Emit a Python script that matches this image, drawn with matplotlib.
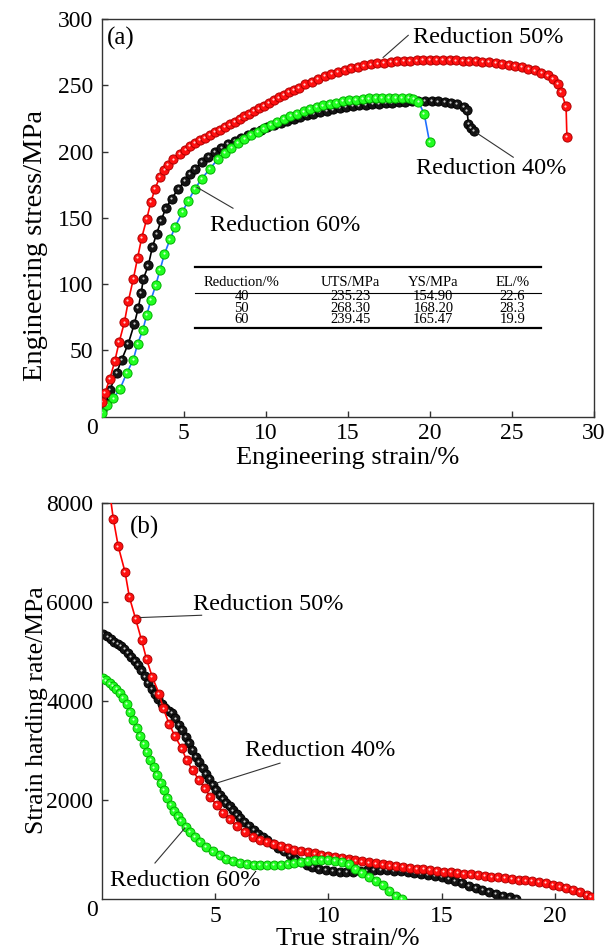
import matplotlib
matplotlib.use('Agg')
import matplotlib.pyplot as plt
from matplotlib.transforms import offset_copy

plt.rcParams['font.family'] = ['Liberation Serif', 'DejaVu Serif']

# ---------------- data: (a) engineering stress-strain ----------------
strain_40 = [0.03, 0.25, 0.5, 0.91, 1.22, 1.62, 1.99, 2.23, 2.4, 2.54, 2.84, 3.09, 3.35, 3.62, 3.9,
             4.27, 4.67, 5.08, 5.4, 5.69, 6.1, 6.5, 6.9, 7.3, 7.7, 8.1, 8.5, 8.9, 9.3, 9.7, 10.1,
             10.5, 10.9, 11.3, 11.7, 12.1, 12.5, 12.9, 13.3, 13.7, 14.1, 14.5, 14.9, 15.3, 15.7,
             16.1, 16.5, 16.9, 17.3, 17.7, 18.1, 18.5, 18.9, 19.3, 19.7, 20.1, 20.5, 20.9, 21.3,
             21.65, 22.05, 22.26, 22.35, 22.5, 22.66]
stress_40 = [5, 10, 20, 33, 43, 55, 70, 82, 93, 104, 114, 128, 138, 148, 157,
             164.5, 172, 178, 183, 187, 192, 196, 199.5, 202.5, 205.5, 208, 210.5, 212.5, 214.5, 216.5, 218.3,
             220, 221.5, 223, 224.5, 226, 227.3, 228.5, 229.7, 230.8, 231.8, 232.7, 233.5, 234.2, 234.8,
             235.3, 235.8, 236.2, 236.6, 237, 237.4, 237.7, 238, 238.2, 238.2, 238.1, 237.8, 237.4, 236.8,
             235.7, 233.6, 231, 221, 218, 215.5]

strain_50 = [0.03, 0.2, 0.5, 0.8, 1.06, 1.38, 1.62, 1.93, 2.19, 2.44, 2.74, 3.0, 3.25, 3.55, 3.82,
             4.06, 4.37, 4.77, 5.1, 5.4, 5.7, 6.0, 6.3, 6.6, 6.9, 7.2, 7.5, 7.8, 8.1, 8.4, 8.7, 9.0,
             9.3, 9.6, 9.9, 10.2, 10.5, 10.8, 11.1, 11.4, 11.7, 12.0, 12.4, 12.8, 13.2, 13.6, 14.0,
             14.4, 14.8, 15.2, 15.6, 16.0, 16.4, 16.8, 17.2, 17.6, 18.0, 18.4, 18.8, 19.2, 19.6, 20.0,
             20.4, 20.8, 21.2, 21.6, 22.0, 22.4, 22.8, 23.2, 23.6, 24.0, 24.4, 24.8, 25.2, 25.6, 26.0,
             26.4, 26.8, 27.2, 27.5, 27.8, 28.0, 28.3, 28.35]
stress_50 = [11, 18, 28.5, 42, 56, 71, 87, 104, 120, 135, 149, 162, 172, 181, 186,
             190, 194, 198.5, 201.5, 204, 206.5, 208.5, 210.5, 212.5, 214.5, 216.5, 218.5, 220.5, 222.5, 224.5, 226.5, 228.5,
             230.5, 232.5, 234.5, 236.7, 238.8, 240.8, 242.8, 244.7, 246.5, 248.3, 250.6, 252.8, 254.8, 256.8, 258.7,
             260.3, 261.7, 263, 264, 265, 265.8, 266.5, 267.1, 267.6, 268, 268.3, 268.6, 268.8, 268.9, 269,
             269, 269, 268.9, 268.8, 268.6, 268.4, 268.1, 267.8, 267.4, 266.9, 266.3, 265.6, 264.8, 263.8, 262.6,
             261.2, 259.5, 257.5, 255, 251, 245, 234, 211]

strain_60 = [0.03, 0.3, 0.71, 1.12, 1.52, 1.93, 2.19, 2.5, 2.74, 3.0, 3.29, 3.55, 3.82, 4.16, 4.47,
             4.92, 5.28, 5.69, 6.1, 6.6, 7.1, 7.5, 7.9, 8.3, 8.7, 9.1, 9.5, 9.9, 10.3, 10.7, 11.1,
             11.5, 11.9, 12.3, 12.7, 13.1, 13.5, 13.9, 14.3, 14.7, 15.1, 15.5, 15.9, 16.3, 16.7,
             17.1, 17.5, 17.9, 18.3, 18.7, 19.0, 19.3, 19.65, 19.98]
stress_60 = [3, 8.7, 13.7, 21, 32.6, 43, 55, 65, 76.5, 88, 99, 110.5, 122.5, 133.6, 143,
             154.5, 163, 172, 179.6, 187, 194.7, 199, 203, 206.5, 209.5, 212.3, 215, 217.5, 220, 222.3, 224.5,
             226.6, 228.5, 230.3, 232, 233.5, 234.8, 236, 237, 237.9, 238.6, 239.2, 239.7, 240.1, 240.4,
             240.6, 240.7, 240.7, 240.6, 240.3, 239.8, 237.4, 228.7, 207]

# table values
table_cols = ['Reduction/%', 'UTS/MPa', 'YS/MPa', 'EL/%']
reductions = ['40', '50', '60']
uts = ['235.23', '268.30', '239.45']
ys = ['154.90', '168.20', '165.47']
el = ['22.6', '28.3', '19.9']

# ---------------- data: (b) strain hardening rate ----------------
tstrain_40 = [0.07, 0.25, 0.4, 0.55, 0.7, 0.85, 1.0, 1.15, 1.3, 1.45, 1.6, 1.75, 1.9, 2.05, 2.2, 2.35,
              2.5, 2.65, 2.8, 2.95, 3.1, 3.25, 3.4, 3.55, 3.7, 3.85, 4.0, 4.15, 4.3, 4.45, 4.6, 4.75,
              4.9, 5.05, 5.2, 5.35, 5.5, 5.65, 5.8, 5.95, 6.1, 6.3, 6.5, 6.7, 6.9, 7.1, 7.3, 7.55, 7.8,
              8.05, 8.3, 8.55, 8.8, 9.05, 9.3, 9.6, 9.9, 10.2, 10.5, 10.8, 11.1, 11.4, 11.7, 12.0, 12.3,
              12.6, 12.9, 13.2, 13.5, 13.8, 14.1, 14.4, 14.7, 15.0, 15.3, 15.6, 15.9, 16.2, 16.5, 16.8,
              17.1, 17.4, 17.7, 18.0, 18.3]
rate_40 = [5367, 5310, 5250, 5200, 5160, 5110, 5050, 4980, 4900, 4820, 4730, 4620, 4500, 4370, 4250, 4140,
           4040, 3940, 3860, 3800, 3760, 3650, 3520, 3420, 3270, 3150, 3010, 2880, 2770, 2650, 2530, 2420,
           2310, 2210, 2110, 2030, 1950, 1870, 1790, 1710, 1640, 1550, 1470, 1390, 1320, 1255, 1195, 1120, 1040,
           960, 880, 810, 750, 695, 645, 605, 580, 562, 552, 548, 552, 565, 578, 586, 585,
           580, 572, 562, 552, 535, 515, 492, 465, 440, 405, 365, 320, 270, 225, 175,
           135, 95, 60, 30, 0]

tstrain_50 = [0.3, 0.51, 0.73, 1.03, 1.22, 1.5, 1.76, 1.98, 2.23, 2.54, 2.72, 2.98, 3.23, 3.53, 3.75,
              4.01, 4.29, 4.56, 4.78, 5.07, 5.36, 5.66, 5.95, 6.32, 6.69, 7.0, 7.3, 7.6, 7.9, 8.2, 8.5,
              8.8, 9.1, 9.4, 9.7, 10.0, 10.3, 10.6, 10.9, 11.2, 11.5, 11.8, 12.1, 12.4, 12.7, 13.0, 13.3,
              13.6, 13.9, 14.2, 14.5, 14.8, 15.1, 15.4, 15.7, 16.0, 16.3, 16.6, 16.9, 17.2, 17.5, 17.8,
              18.1, 18.4, 18.7, 19.0, 19.3, 19.6, 19.9, 20.2, 20.5, 20.8, 21.1, 21.4, 21.6]
rate_50 = [8400, 7690, 7130, 6610, 6106, 5656, 5232, 4848, 4490, 4141, 3852, 3535, 3293, 3044, 2808,
           2606, 2404, 2236, 2067, 1899, 1743, 1610, 1475, 1360, 1259, 1200, 1150, 1105, 1065, 1030, 1000,
           970, 945, 920, 895, 875, 850, 825, 800, 780, 760, 740, 720, 700, 680, 662, 645,
           630, 615, 600, 585, 570, 555, 540, 525, 510, 495, 480, 465, 450, 435, 420,
           405, 390, 375, 360, 345, 320, 290, 255, 220, 180, 135, 80, 47]

tstrain_60 = [0.07, 0.2, 0.35, 0.5, 0.65, 0.8, 0.95, 1.1, 1.25, 1.4, 1.55, 1.7, 1.85, 2.0, 2.15, 2.3,
              2.45, 2.6, 2.75, 2.9, 3.05, 3.2, 3.35, 3.5, 3.7, 3.9, 4.1, 4.35, 4.6, 4.9, 5.2, 5.5, 5.8,
              6.1, 6.4, 6.7, 7.0, 7.3, 7.6, 7.9, 8.2, 8.5, 8.8, 9.1, 9.4, 9.7, 10.0, 10.3, 10.6, 10.9,
              11.2, 11.5, 11.8, 12.1, 12.4, 12.7, 13.0, 13.25]
rate_60 = [4458, 4420, 4360, 4300, 4240, 4160, 4060, 3950, 3780, 3620, 3460, 3300, 3140, 2980, 2820, 2660,
           2510, 2350, 2200, 2040, 1900, 1780, 1670, 1570, 1450, 1350, 1260, 1150, 1050, 960, 880, 815, 765,
           730, 705, 692, 688, 686, 686, 690, 705, 725, 750, 770, 785, 792, 790, 775, 745, 700,
           610, 530, 450, 370, 280, 170, 70, 0]

# (face, edge, line)
RED = ('#ff1010', '#b00000', '#ff0000')
BLACK = ('#151515', '#000000', '#000000')
GREEN = ('#22ff22', '#00b000', '#1f6fff')


def beads(ax, x, y, style, ms, z):
    # sphere-like markers: coloured disc plus a small white highlight
    face, edge, line = style
    ax.plot(x, y, '-', color=line, lw=1.2, zorder=z)
    ax.plot(x, y, 'o', ms=ms, mfc=face, mec=edge, mew=0.7, zorder=z + 0.1)
    hl = offset_copy(ax.transData, fig=ax.figure, x=-0.6, y=0.6, units='points')
    ax.plot(x, y, 'o', ms=ms * 0.24, mfc='white', mec='none', alpha=0.8,
            zorder=z + 0.2, transform=hl)


def style_axes(ax):
    for sp in ax.spines.values():
        sp.set_color('#333333')
        sp.set_linewidth(1.0)
    ax.tick_params(direction='in', length=4, width=1, labelsize=17, pad=5, color='#333333')
    ax.tick_params(axis='y', pad=6)
    ax.annotate('0', xy=(0, 0), xycoords='axes fraction', xytext=(-3, -1),
                textcoords='offset points', ha='right', va='top', fontsize=17)


def leader(ax, p0, p1):
    ax.plot([p0[0], p1[0]], [p0[1], p1[1]], color='#333333', lw=0.8, zorder=10)


fig = plt.figure(figsize=(6.04, 9.52), dpi=100)

# ---------------- panel (a) ----------------
ax1 = fig.add_axes([0.1684, 0.5625, 0.815, 0.4175])
beads(ax1, strain_40, stress_40, BLACK, 6.6, 2)
beads(ax1, strain_60, stress_60, GREEN, 6.6, 3)
beads(ax1, strain_50, stress_50, RED, 6.6, 4)
ax1.set_xlim(0, 30)
ax1.set_ylim(0, 300)
ax1.set_xticks([5, 10, 15, 20, 25, 30])
ax1.set_yticks([50, 100, 150, 200, 250, 300])
style_axes(ax1)
ax1.set_xlabel('Engineering strain/%', fontsize=19, labelpad=2)
ax1.set_ylabel('Engineering stress/MPa', fontsize=20.5)
ax1.yaxis.set_label_coords(-0.109, 0.431)

ax1.text(0.32, 285, '(a)', fontsize=18, ha='left', va='center')
leader(ax1, (17.15, 271), (18.68, 287.7))
ax1.text(18.95, 286, 'Reduction 50%', fontsize=17.5, ha='left', va='center')
leader(ax1, (22.88, 213.8), (25.08, 195.7))
ax1.text(19.16, 187.4, 'Reduction 40%', fontsize=17.5, ha='left', va='center')
leader(ax1, (5.81, 173), (8.0, 157.2))
ax1.text(6.6, 144.4, 'Reduction 60%', fontsize=17.5, ha='left', va='center')

# property table (three-line table)
col_x = [8.54, 15.15, 20.21, 25.03]
ax1.plot([5.7, 26.8], [113, 113], color='black', lw=1.6, zorder=10)
ax1.plot([5.7, 26.8], [93.4, 93.4], color='black', lw=0.8, zorder=10)
ax1.plot([5.7, 26.8], [66.5, 66.5], color='black', lw=1.6, zorder=10)
for cx, name in zip(col_x, table_cols):
    ax1.text(cx, 101.5, name, fontsize=10.5, ha='center', va='center', zorder=10)
for cx, col in zip(col_x, [reductions, uts, ys, el]):
    ax1.text(cx, 81.8, '\n'.join(col), fontsize=10.5, ha='center', va='center',
             multialignment='center', linespacing=0.82, zorder=10)

# ---------------- panel (b) ----------------
ax2 = fig.add_axes([0.1684, 0.0557, 0.814, 0.4156])
beads(ax2, tstrain_40, rate_40, BLACK, 6.4, 2)
beads(ax2, tstrain_50, rate_50, RED, 6.4, 3)
beads(ax2, tstrain_60, rate_60, GREEN, 6.4, 4)
ax2.set_xlim(0, 21.7)
ax2.set_ylim(0, 8000)
ax2.set_xticks([5, 10, 15, 20])
ax2.set_yticks([2000, 4000, 6000, 8000])
style_axes(ax2)
ax2.set_xlabel('True strain/%', fontsize=19, labelpad=1)
ax2.set_ylabel('Strain harding rate/MPa', fontsize=18.5)
ax2.yaxis.set_label_coords(-0.109, 0.477)

ax2.text(1.25, 7514, '(b)', fontsize=18, ha='left', va='center')
leader(ax2, (1.69, 5690), (4.41, 5737))
ax2.text(4.03, 5959, 'Reduction 50%', fontsize=17.5, ha='left', va='center')
leader(ax2, (5.07, 2343), (7.87, 2747))
ax2.text(6.33, 3010, 'Reduction 40%', fontsize=17.5, ha='left', va='center')
leader(ax2, (3.67, 1434), (2.35, 727))
ax2.text(0.37, 364, 'Reduction 60%', fontsize=17.5, ha='left', va='center')

fig.savefig('out.png', dpi=100, facecolor='white')
